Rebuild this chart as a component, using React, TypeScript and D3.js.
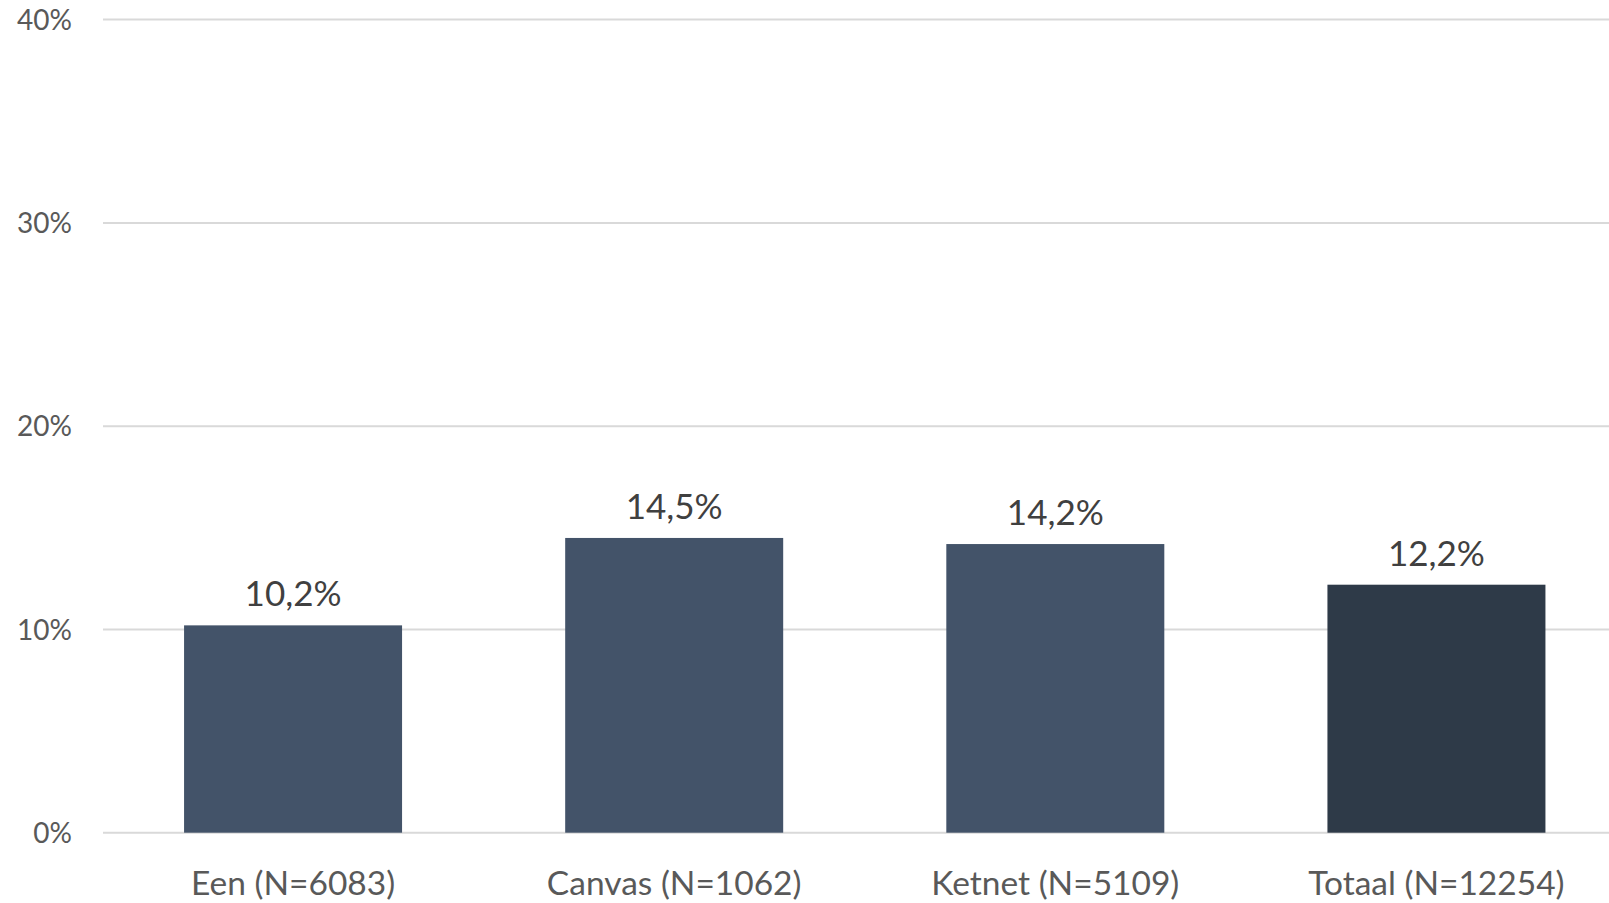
import * as d3 from "d3";
import { useEffect } from "react";

const categories = ["Een (N=6083)", "Canvas (N=1062)", "Ketnet (N=5109)", "Totaal (N=12254)"];
const values = [0.102, 0.145, 0.142, 0.122];
const barColors = ["#435369", "#435369", "#435369", "#2e3a48"];
const yTicks = [0, 0.1, 0.2, 0.3, 0.4];

const width = 1609;
const height = 903;
const font = "Lato, 'Open Sans', sans-serif";

export default function App() {
    useEffect(() => {
        document.body.style.margin = "0";
    }, []);

    const x = d3.scaleBand<string>()
        .domain(categories)
        .range([102.5, 1627])
        .paddingInner(0.428)
        .paddingOuter(0.214);

    const y = d3.scaleLinear()
        .domain([0, 0.4])
        .range([832.7, 19.6]);

    const tickFmt = d3.format(".0%");
    const labelFmt = (v: number) => (v * 100).toFixed(1).replace(".", ",") + "%";

    return (
        <svg width={width} height={height} style={{ display: "block", background: "#fff" }}>
            {/* gridlines */}
            {yTicks.map(t => (
                <g key={t}>
                    <line x1={103} x2={width} y1={y(t)} y2={y(t)} stroke="#d9d9d9" strokeWidth={2} />
                    <text x={72} y={y(t)} dy="0.36em" textAnchor="end" fontFamily={font}
                          fontSize={28} fill="#595959">{tickFmt(t)}</text>
                </g>
            ))}
            {/* bars */}
            {categories.map((c, i) => (
                <g key={c}>
                    <rect x={x(c)} y={y(values[i])} width={x.bandwidth()}
                          height={y(0) - y(values[i])} fill={barColors[i]} />
                    <text x={(x(c) ?? 0) + x.bandwidth() / 2} y={y(values[i]) - 19} textAnchor="middle"
                          fontFamily={font} fontSize={35} fill="#404040">{labelFmt(values[i])}</text>
                    <text x={(x(c) ?? 0) + x.bandwidth() / 2} y={895} textAnchor="middle"
                          fontFamily={font} fontSize={33.5} fill="#595959">{c}</text>
                </g>
            ))}
        </svg>
    );
}
